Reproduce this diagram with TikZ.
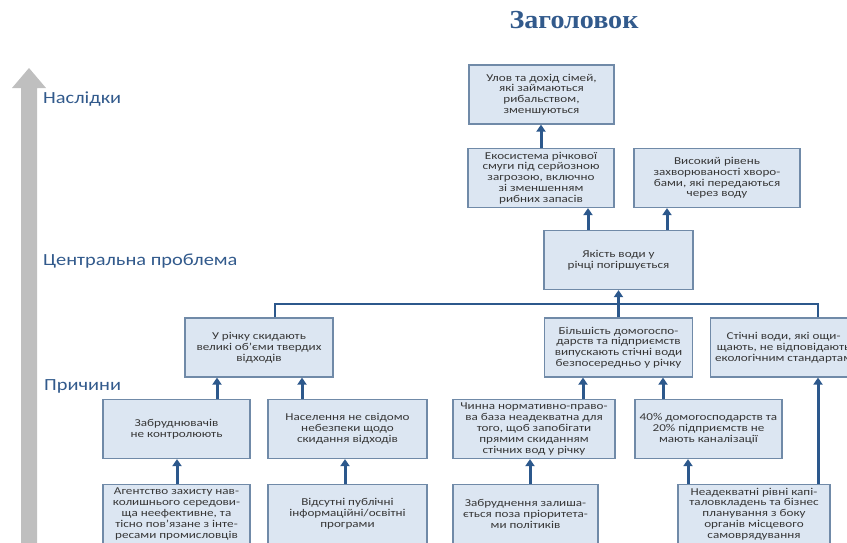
\documentclass[tikz,border=0pt]{standalone}
\usepackage{fontspec}
\setmainfont{Carlito}[FakeStretch=1.25]
\newfontfamily\levelfont{Carlito}[FakeStretch=1.2]
\newfontfamily\titlefont{Liberation Serif}[FakeStretch=1.08]
\usetikzlibrary{arrows.meta}
\definecolor{boxfill}{RGB}{220,230,242}
\definecolor{boxline}{RGB}{112,138,168}
\definecolor{arrowblue}{RGB}{44,88,140}
\definecolor{labelblue}{RGB}{50,90,140}
\definecolor{bargray}{RGB}{191,191,191}
\definecolor{boxtext}{RGB}{55,55,55}

\begin{document}
\begin{tikzpicture}[x=1pt, y=-1pt,
	box/.style={draw=boxline, fill=boxfill, line width=1.2pt, align=center, inner sep=2pt,
		font=\fontsize{10.5}{10.8}\selectfont, text=boxtext, minimum height=59pt},
	arr/.style={draw=arrowblue, line width=3pt, -{Triangle[width=9pt,length=7pt]}},
	link/.style={draw=arrowblue, line width=2.8pt},
	level/.style={anchor=base west, inner sep=0pt, text=labelblue, font=\levelfont\fontsize{17}{20}\selectfont}]
	 		\useasboundingbox (0,0) rectangle (847,542);
	 		\clip (0,0) rectangle (847,542);

	 		\node[font=\titlefont\bfseries\fontsize{26}{30}\selectfont, text=labelblue] (title) at(574, 20){Заголовок};

	 		% gray bar on the left
	 		\fill[bargray] (21,550) -- (21,88) -- (12,88) -- (29,68) -- (46,88) -- (37,88) -- (37,550) -- cycle;
	 		\node[level] (effects) at(43, 103){Наслідки};
	 		\node[level] (core) at(43, 265){Центральна проблема};
	 		\node[level] (causes) at(44, 390){Причини};

	 		% effects
	 		\node[box, minimum width=145pt] (catch) at(541.5, 94.5){Улов та дохід сімей,\\ які займаються\\ рибальством,\\ зменшуються};
	 		\node[box, minimum width=146pt] (eco) at(541, 178){Екосистема річкової\\ смуги під серйозною\\ загрозою, включно\\ зі зменшенням\\ рибних запасів};
	 		\node[box, minimum width=166pt] (disease) at(717, 178){Високий рівень\\ захворюваності хворо-\\ бами, які передаються\\ через воду};

	 		% central problem
	 		\node[box, minimum width=149pt] (central) at(618.5, 260){Якість води у\\ річці погіршується};

	 		% causes
	 		\node[box, minimum width=148pt] (waste) at(259, 347.5){У річку скидають\\ великі об'єми твердих\\ відходів};
	 		\node[box, minimum width=148pt] (most) at(618.5, 347.5){Більшість домогоспо-\\ дарств та підприємств\\ випускають стічні води\\ безпосередньо у річку};
	 		\node[box, minimum width=146pt, anchor=west] (sewage) at(710, 347.5){Стічні води, які ощи-\\ щають, не відповідають\\ екологічним стандартам};

	 		\node[box, minimum width=147pt] (control) at(176.5, 429){Забруднювачів\\ не контролюють};
	 		\node[box, minimum width=159pt] (aware) at(347.5, 429){Населення не свідомо\\ небезпеки щодо\\ скидання відходів};
	 		\node[box, minimum width=162pt] (law) at(534, 429){Чинна нормативно-право-\\ва база неадекватна для\\ того, щоб запобігати\\ прямим скиданням\\ стічних вод у річку};
	 		\node[box, minimum width=147pt] (forty) at(708.5, 429){40\% домогосподарств та\\ 20\% підприємств не\\ мають каналізації};

	 		\node[box, minimum width=147pt] (agency) at(176.5, 514){Агентство захисту нав-\\ колишнього середови-\\ ща неефективне, та\\ тісно пов'язане з інте-\\ ресами промисловців};
	 		\node[box, minimum width=159pt] (nopub) at(347.5, 514){Відсутні публічні\\ інформаційні/освітні\\ програми};
	 		\node[box, minimum width=145pt] (policy) at(525.5, 514){Забруднення залиша-\\ ється поза пріоритета-\\ ми політиків};
	 		\node[box, minimum width=152pt] (invest) at(754, 514){Неадекватні рівні капі-\\ таловкладень та бізнес\\ планування з боку\\ органів місцевого\\ самоврядування};

	 		% arrows
	 		\draw[arr] (eco.north -| 541,0) -- (catch.south -| 541,0);
	 		\draw[arr] (central.north -| 588,0) -- (eco.south -| 588,0);
	 		\draw[arr] (central.north -| 667,0) -- (disease.south -| 667,0);
	 		\draw[arr] (most.north) -- (central.south);

	 		\coordinate (bus) at(0, 304);
	 		\draw[link] (waste.north -| 275,0) |- (bus -| 818,0) -- (sewage.north -| 818,0);

	 		\draw[arr] (control.north -| 217,0) -- (waste.south -| 217,0);
	 		\draw[arr] (aware.north -| 302,0) -- (waste.south -| 302,0);
	 		\draw[arr] (law.north -| 583,0) -- (most.south -| 583,0);
	 		\draw[arr] (forty.north -| 663,0) -- (most.south -| 663,0);
	 		\draw[arr] (invest.north -| 818,0) -- (sewage.south -| 818,0);

	 		\draw[arr] (agency.north -| 177,0) -- (control.south -| 177,0);
	 		\draw[arr] (nopub.north -| 345,0) -- (aware.south -| 345,0);
	 		\draw[arr] (policy.north -| 530,0) -- (law.south -| 530,0);
	 		\draw[arr] (invest.north -| 688,0) -- (forty.south -| 688,0);
\end{tikzpicture}
\end{document}
